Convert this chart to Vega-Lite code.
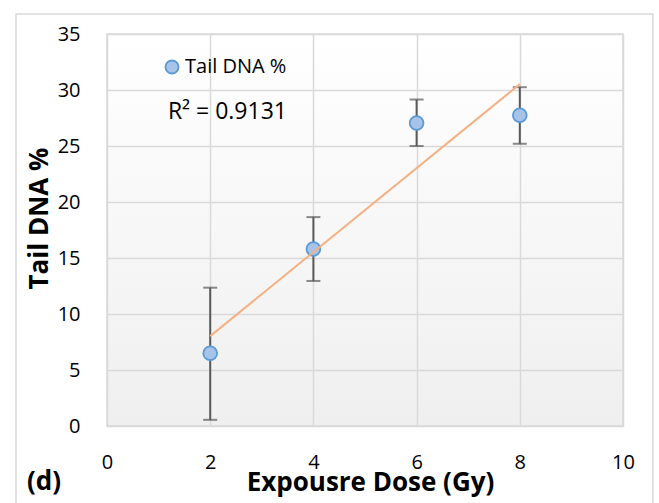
{
  "$schema": "https://vega.github.io/schema/vega-lite/v6.json",
  "width": 516,
  "height": 392,
  "autosize": "none",
  "padding": {"left": 107, "top": 34, "right": 36, "bottom": 77},
  "background": "white",
  "view": {
    "stroke": "#d9d9d9",
    "strokeWidth": 1.5,
    "fill": {"gradient": "linear", "x1": 0, "y1": 0, "x2": 0, "y2": 1,
      "stops": [{"offset": 0, "color": "#ffffff"}, {"offset": 1, "color": "#efefef"}]}
  },
  "config": {
    "font": "Open Sans",
    "axis": {
      "grid": true, "gridColor": "#d9d9d9", "gridWidth": 1.5,
      "domain": false, "ticks": false, "tickSize": 0, "labelFlush": false,
      "labelFontSize": 20, "labelColor": "#000000", "labelFont": "Open Sans",
      "titleFontSize": 26, "titleFontWeight": "bold", "titleColor": "#000000", "titleFont": "Open Sans"
    }
  },
  "data": {
    "values": [
      {"dose": 2, "tail": 6.5, "lo": 0.55, "hi": 12.35, "series": "Tail DNA %"},
      {"dose": 4, "tail": 15.8, "lo": 12.95, "hi": 18.65, "series": "Tail DNA %"},
      {"dose": 6, "tail": 27.05, "lo": 25.0, "hi": 29.15, "series": "Tail DNA %"},
      {"dose": 8, "tail": 27.75, "lo": 25.2, "hi": 30.25, "series": "Tail DNA %"}
    ]
  },
  "layer": [
    {
      "mark": {"type": "errorbar", "color": "#595959", "thickness": 2, "ticks": {"size": 14, "thickness": 2, "color": "#595959"}},
      "encoding": {
        "x": {
          "field": "dose", "type": "quantitative",
          "scale": {"domain": [0, 10], "nice": false, "zero": false},
          "axis": {
            "values": [0, 2, 4, 6, 8, 10],
            "labelBaseline": "alphabetic", "labelPadding": 42, "labelFlush": false,
            "title": "Expousre Dose (Gy)", "titleBaseline": "alphabetic", "titleY": 64, "titleX": 263
          }
        },
        "y": {
          "field": "lo", "type": "quantitative",
          "scale": {"domain": [0, 35], "nice": false},
          "axis": {
            "values": [0, 5, 10, 15, 20, 25, 30, 35],
            "labelPadding": 27, "labelFlush": false,
            "title": "Tail DNA %", "titleBaseline": "alphabetic", "titleX": -60, "titleY": 184, "titleAngle": -90
          }
        },
        "y2": {"field": "hi"}
      }
    },
    {
      "mark": {"type": "circle", "size": 190, "stroke": "#5b9bd5", "strokeWidth": 1.8, "opacity": 1},
      "encoding": {
        "x": {"field": "dose", "type": "quantitative"},
        "y": {"field": "tail", "type": "quantitative"},
        "color": {
          "field": "series", "type": "nominal",
          "scale": {"range": ["#a8c3ea"]},
          "legend": {
            "title": null, "orient": "none", "legendX": 55, "legendY": 23,
            "symbolType": "circle", "symbolSize": 170, "symbolStrokeColor": "#5b9bd5", "symbolStrokeWidth": 1.8,
            "symbolOpacity": 1, "labelFontSize": 20, "labelColor": "#000000", "labelFont": "Open Sans", "labelOffset": 3, "padding": 0
          }
        }
      }
    },
    {
      "transform": [{"regression": "tail", "on": "dose", "extent": [2, 8]}],
      "mark": {"type": "line", "color": "#f4b183", "strokeWidth": 2},
      "encoding": {
        "x": {"field": "dose", "type": "quantitative"},
        "y": {"field": "tail", "type": "quantitative"}
      }
    },
    {
      "data": {"values": [{"label": "R² = 0.9131"}]},
      "mark": {"type": "text", "align": "left", "baseline": "alphabetic", "fontSize": 23, "font": "Open Sans", "color": "#000000"},
      "encoding": {
        "x": {"datum": 1.18, "type": "quantitative"},
        "y": {"datum": 27.4, "type": "quantitative"},
        "text": {"field": "label", "type": "nominal"}
      }
    },
    {
      "data": {"values": [{"label": "(d)"}]},
      "mark": {"type": "text", "align": "left", "baseline": "alphabetic", "fontSize": 26, "fontWeight": "bold", "font": "Open Sans", "color": "#000000"},
      "encoding": {
        "x": {"datum": -1.55, "type": "quantitative"},
        "y": {"datum": -5.71, "type": "quantitative"},
        "text": {"field": "label", "type": "nominal"}
      }
    },
    {
      "data": {"values": [{"label": "frame"}]},
      "mark": {"type": "rect", "fill": null, "stroke": "#d9d9d9", "strokeWidth": 1.5},
      "encoding": {
        "x": {"datum": -1.764, "type": "quantitative"}, "x2": {"datum": 10.58},
        "y": {"datum": 36.79, "type": "quantitative"}, "y2": {"datum": -8}
      }
    }
  ]
}
